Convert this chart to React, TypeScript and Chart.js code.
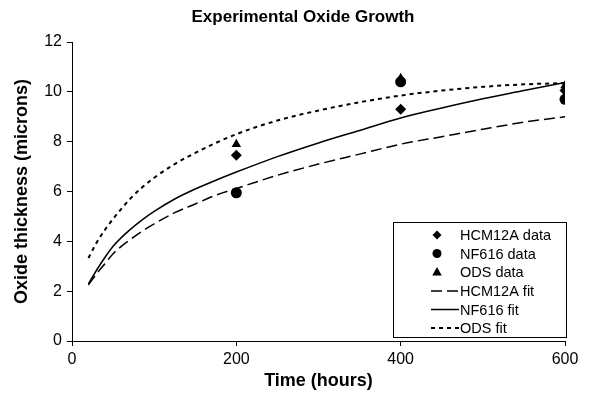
import React, { useEffect, useRef } from 'react';
import { Chart, registerables } from 'chart.js';

Chart.register(...registerables);

const FONT = "'Liberation Sans', Arial, sans-serif";

const chartTitle = 'Experimental Oxide Growth';
const xTitle = 'Time (hours)';
const yTitle = 'Oxide thickness (microns)';

const dataTimes = [200, 400, 600];
const hcm12aData = [7.45, 9.3, 10.05];
const nf616Data = [5.95, 10.4, 9.7];
const odsData = [7.9, 10.55, 10.25];

const fitTimes = [20, 30, 40, 50, 60, 70, 85, 100, 125, 150, 175, 200, 250, 300, 350, 400, 450, 500, 550, 600];
const hcm12aFit = [2.25, 2.7, 3.1, 3.5, 3.8, 4.05, 4.4, 4.7, 5.15, 5.5, 5.85, 6.12, 6.65, 7.1, 7.5, 7.9, 8.2, 8.5, 8.78, 9.0];
const nf616Fit = [2.29, 2.85, 3.35, 3.8, 4.15, 4.45, 4.85, 5.2, 5.7, 6.1, 6.45, 6.78, 7.4, 7.95, 8.45, 8.95, 9.35, 9.72, 10.05, 10.38];
const odsFit = [3.33, 3.95, 4.46, 4.9, 5.3, 5.68, 6.15, 6.55, 7.1, 7.55, 7.95, 8.3, 8.85, 9.25, 9.58, 9.85, 10.05, 10.2, 10.3, 10.35];

const legendLabels = ['HCM12A data', 'NF616 data', 'ODS data', 'HCM12A fit', 'NF616 fit', 'ODS fit'];

const xMin = 0, xMax = 600, xStep = 200;
const yMin = 0, yMax = 12, yStep = 2;

const toPts = (xs: number[], ys: number[]) => xs.map((x, i) => ({ x, y: ys[i] }));

function drawMarker(ctx: CanvasRenderingContext2D, style: string, x: number, y: number, r: number) {
  ctx.beginPath();
  if (style === 'diamond') {
    ctx.moveTo(x, y - r);
    ctx.lineTo(x + r, y);
    ctx.lineTo(x, y + r);
    ctx.lineTo(x - r, y);
    ctx.closePath();
  } else if (style === 'circle') {
    ctx.arc(x, y, r, 0, Math.PI * 2);
  } else {
    ctx.moveTo(x, y - r);
    ctx.lineTo(x + r * 0.95, y + r * 0.7);
    ctx.lineTo(x - r * 0.95, y + r * 0.7);
    ctx.closePath();
  }
  ctx.fillStyle = '#000';
  ctx.fill();
}

const decorPlugin = {
  id: 'decor',
  afterDraw(chart: any) {
    const ctx = chart.ctx as CanvasRenderingContext2D;
    const area = chart.chartArea;
    ctx.save();
    ctx.fillStyle = '#000';
    ctx.font = `bold 17px ${FONT}`;
    ctx.textAlign = 'center';
    ctx.textBaseline = 'middle';
    ctx.fillText(chartTitle, 303, 17);
    ctx.font = `bold 18px ${FONT}`;
    ctx.fillText(xTitle, (area.left + area.right) / 2, 381);
    ctx.save();
    ctx.translate(22, (area.top + area.bottom) / 2);
    ctx.rotate(-Math.PI / 2);
    ctx.fillText(yTitle, 0, 0);
    ctx.restore();

    const bx = 393, by = 222, bw = 173, bh = 115;
    ctx.fillStyle = '#fff';
    ctx.fillRect(bx, by, bw, bh);
    ctx.strokeStyle = '#000';
    ctx.lineWidth = 1;
    ctx.strokeRect(bx + 0.5, by + 0.5, bw, bh);
    const rows = [235, 253.5, 272, 291, 309.5, 328];
    const markers = ['diamond', 'circle', 'triangle'];
    const dashes = [[11, 5], [], [4, 4]];
    ctx.font = `14.5px ${FONT}`;
    ctx.textAlign = 'left';
    ctx.textBaseline = 'middle';
    for (let i = 0; i < 6; i++) {
      const y = rows[i];
      if (i < 3) {
        drawMarker(ctx, markers[i], 437, y, i === 2 ? 5 : 4.5);
      } else {
        ctx.beginPath();
        ctx.setLineDash(dashes[i - 3]);
        ctx.lineWidth = i === 5 ? 2 : 1.5;
        ctx.strokeStyle = '#000';
        ctx.moveTo(431, y);
        ctx.lineTo(459, y);
        ctx.stroke();
        ctx.setLineDash([]);
      }
      ctx.fillStyle = '#000';
      ctx.fillText(legendLabels[i], 460, y + 1);
    }
    ctx.restore();
  },
};

export default function App() {
  const ref = useRef<HTMLCanvasElement | null>(null);
  useEffect(() => {
    document.body.style.margin = '0';
    if (!ref.current) return;
    const lineBase = {
      type: 'line' as const,
      pointRadius: 0,
      borderColor: '#000',
      fill: false,
      cubicInterpolationMode: 'monotone' as const,
    };
    const chart = new Chart(ref.current, {
      type: 'scatter',
      data: {
        datasets: [
          { label: legendLabels[0], data: toPts(dataTimes, hcm12aData), pointStyle: 'rectRot', pointRadius: 5.5, backgroundColor: '#000', borderColor: '#000', borderWidth: 0 },
          { label: legendLabels[1], data: toPts(dataTimes, nf616Data), pointStyle: 'circle', pointRadius: 5.5, backgroundColor: '#000', borderColor: '#000', borderWidth: 0 },
          { label: legendLabels[2], data: toPts(dataTimes, odsData), pointStyle: 'triangle', pointRadius: 5.5, backgroundColor: '#000', borderColor: '#000', borderWidth: 0 },
          { ...lineBase, label: legendLabels[3], data: toPts(fitTimes, hcm12aFit), borderWidth: 1.5, borderDash: [11, 5] },
          { ...lineBase, label: legendLabels[4], data: toPts(fitTimes, nf616Fit), borderWidth: 1.5 },
          { ...lineBase, label: legendLabels[5], data: toPts(fitTimes, odsFit), borderWidth: 2, borderDash: [4, 4] },
        ] as any,
      },
      options: {
        responsive: false,
        animation: false,
        layout: { padding: { left: 0, right: 26, top: 42, bottom: 0 } },
        plugins: { legend: { display: false }, title: { display: false }, tooltip: { enabled: false } },
        scales: {
          x: {
            type: 'linear',
            min: xMin,
            max: xMax,
            ticks: { stepSize: xStep, color: '#000', font: { family: FONT, size: 16 }, padding: 4, maxRotation: 0 },
            grid: { display: true, drawOnChartArea: false, drawTicks: true, tickLength: 5, color: '#000' },
            border: { display: true, color: '#000', width: 1 },
            afterFit: (s: any) => { s.height = 54; },
          },
          y: {
            type: 'linear',
            min: yMin,
            max: yMax,
            ticks: { stepSize: yStep, color: '#000', font: { family: FONT, size: 16 }, padding: 5 },
            grid: { display: true, drawOnChartArea: false, drawTicks: true, tickLength: 5, color: '#000' },
            border: { display: true, color: '#000', width: 1 },
            afterFit: (s: any) => { s.width = 72; },
          },
        },
      } as any,
      plugins: [decorPlugin],
    });
    return () => chart.destroy();
  }, []);
  return (
    <div style={{ width: 591, height: 395, background: '#fff' }}>
      <canvas ref={ref} width={591} height={395} style={{ display: 'block' }} />
    </div>
  );
}
